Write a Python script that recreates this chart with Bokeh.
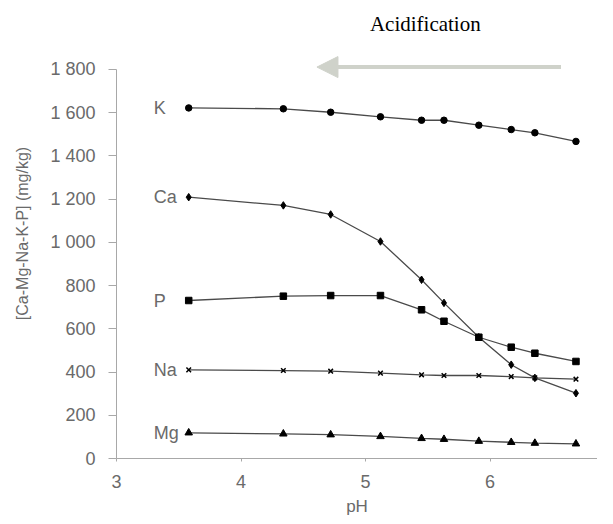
from bokeh.plotting import figure
from bokeh.models import Range1d, FixedTicker, Label, Arrow, NormalHead
from bokeh.embed import file_html
from bokeh.resources import INLINE

ph = [3.58, 4.34, 4.72, 5.12, 5.45, 5.63, 5.91, 6.17, 6.36, 6.69]
k = [1622, 1618, 1602, 1581, 1565, 1565, 1542, 1522, 1507, 1467]
ca = [1209, 1171, 1129, 1004, 827, 720, 561, 434, 373, 302]
p_ = [731, 751, 754, 754, 688, 635, 561, 515, 487, 449]
na = [410, 407, 404, 395, 387, 384, 384, 379, 373, 367]
mg = [119, 114, 110, 102, 93, 89, 80, 75, 71, 68]

series_names = ["K", "Ca", "P", "Na", "Mg"]
series_values = [k, ca, p_, na, mg]
series_markers = ["circle", "diamond", "square", "x", "triangle"]

y_ticks = [0, 200, 400, 600, 800, 1000, 1200, 1400, 1600, 1800]
y_tick_labels = ["0", "200", "400", "600", "800", "1 000", "1 200", "1 400", "1 600", "1 800"]
x_ticks = [3, 4, 5, 6, 7]

FONT = "Liberation Sans"
GRAY = "#6a6a6a"

p = figure(width=597, height=519, output_backend="svg", toolbar_location=None,
           x_range=Range1d(3, 6.863), y_range=Range1d(0, 2082),
           min_border_left=116, min_border_right=0, min_border_top=8, min_border_bottom=61)
p.outline_line_color = None
p.grid.grid_line_color = None
p.background_fill_color = "white"

sizes = {"circle": 6.5, "diamond": 7.5, "square": 6.5, "x": 6.5, "triangle": 7.5}
for name, vals, mk in zip(series_names, series_values, series_markers):
    p.line(ph, vals, line_color="#4a4a4a", line_width=1.3)
    p.scatter(ph, vals, marker=mk, size=sizes[mk], fill_color="black",
              line_color="black", line_width=1.5 if mk == "x" else 1)
    p.add_layout(Label(x=3.30, y=vals[0], text=name, text_align="left",
                       text_baseline="middle", text_font=FONT, text_font_size="18px",
                       text_color=GRAY))

# Arrow and title
p.add_layout(Arrow(end=NormalHead(size=21, fill_color="#cfd2ca", line_color="#cfd2ca"),
                   x_start=6.57, y_start=1811, x_end=4.61, y_end=1811,
                   line_color="#cfd2ca", line_width=4))
p.add_layout(Label(x=5.48, y=2012, text="Acidification", text_align="center",
                   text_baseline="middle", text_font="Liberation Serif",
                   text_font_size="21px", text_color="black"))

for ax in (p.xaxis[0], p.yaxis[0]):
    ax.axis_line_color = "#a8a8a8"
    ax.major_tick_line_color = "#a8a8a8"
    ax.minor_tick_line_color = None
    ax.major_label_text_font = FONT
    ax.major_label_text_font_size = "18px"
    ax.major_label_text_color = GRAY
    ax.axis_label_text_font = FONT
    ax.axis_label_text_color = GRAY
    ax.axis_label_text_font_style = "normal"

p.yaxis.ticker = FixedTicker(ticks=y_ticks)
p.yaxis.major_label_overrides = {t: l for t, l in zip(y_ticks, y_tick_labels)}
p.yaxis.bounds = (0, 1800)
p.yaxis.major_tick_out = 8
p.yaxis.major_tick_in = 0
p.yaxis.major_label_standoff = 13
p.yaxis.axis_label = "[Ca-Mg-Na-K-P] (mg/kg)"
p.yaxis.axis_label_text_font_size = "16px"
p.yaxis.axis_label_standoff = 16

p.xaxis.ticker = FixedTicker(ticks=x_ticks)
p.xaxis.bounds = (3, 7)
p.xaxis.major_tick_out = 3
p.xaxis.major_tick_in = 0
p.xaxis.major_label_standoff = 13
p.xaxis.axis_label = "pH"
p.xaxis.axis_label_text_font_size = "17px"
p.xaxis.axis_label_standoff = 6

open("out.html", "w").write(file_html(p, INLINE))
